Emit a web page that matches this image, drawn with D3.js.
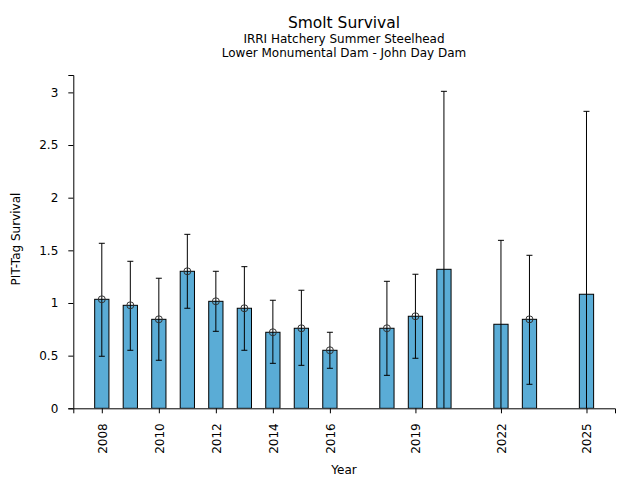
<!DOCTYPE html>
<html>
<head>
<meta charset="utf-8">
<script src="https://cdn.jsdelivr.net/npm/d3@7"></script>
<style>
  body { margin: 0; background: #fff; }
  text { font-family: "DejaVu Sans", sans-serif; fill: #000; }
</style>
</head>
<body>
<svg id="chart" width="640" height="480"></svg>
<script>
// data
var years    = [2008, 2009, 2010, 2011, 2012, 2013, 2014, 2015, 2016, 2018, 2019, 2020, 2022, 2023, 2025];
var survival = [1.035, 0.978, 0.845, 1.301, 1.016, 0.950, 0.722, 0.760, 0.551, 0.760, 0.874, 1.320, 0.798, 0.845, 1.083];
// point estimate circles (null where none drawn)
var points   = [1.035, 0.978, 0.845, 1.301, 1.016, 0.950, 0.722, 0.760, 0.551, 0.760, 0.874, null, null, 0.845, null];
var errUpper = [1.567, 1.396, 1.235, 1.652, 1.301, 1.345, 1.026, 1.121, 0.722, 1.206, 1.273, 3.010, 1.595, 1.453, 2.820];
var errLower = [0.494, 0.551, 0.456, 0.950, 0.731, 0.551, 0.427, 0.408, 0.380, 0.313, 0.475, -0.5, -0.5, 0.228, -0.5];
var xTicks   = [2008, 2010, 2012, 2014, 2016, 2019, 2022, 2025];
var yTicks   = [0, 0.5, 1, 1.5, 2, 2.5, 3];

var svg = d3.select('#chart');
var padL = 73.3, padR = 615, padT = 75, padB = 408.3;

var x = d3.scaleLinear().domain([2007, 2026]).range([padL, padR]);
var y = d3.scaleLinear().domain([0, 3.165]).range([padB, padT]);

var rows = years.map(function(d, i) {
    return {year: d, v: survival[i], p: points[i], hi: errUpper[i], lo: errLower[i]};
});

//clip so error bars below zero are cut at the axis
svg.append('clipPath').attr('id', 'plotclip')
    .append('rect').attr('x', padL).attr('y', padT - 10).attr('width', padR - padL).attr('height', padB - padT + 10);

var plot = svg.append('g').attr('clip-path', 'url(#plotclip)');

var bw = x(2008.5) - x(2008);

plot.selectAll('rect.bar').data(rows).enter().append('rect')
    .attr('class', 'bar')
    .attr('x', function(d) { return x(d.year) - bw / 2; })
    .attr('y', function(d) { return y(d.v); })
    .attr('width', bw)
    .attr('height', function(d) { return y(0) - y(d.v); })
    .attr('fill', '#5aacd6')
    .attr('stroke', '#000')
    .attr('stroke-width', 1);

var eb = plot.selectAll('g.err').data(rows).enter().append('g').attr('class', 'err')
    .attr('stroke', '#000').attr('stroke-width', 1);
eb.append('line')
    .attr('x1', function(d) { return x(d.year); })
    .attr('x2', function(d) { return x(d.year); })
    .attr('y1', function(d) { return y(d.lo); })
    .attr('y2', function(d) { return y(d.hi); });
eb.append('line')
    .attr('x1', function(d) { return x(d.year) - 3; })
    .attr('x2', function(d) { return x(d.year) + 3; })
    .attr('y1', function(d) { return y(d.hi); })
    .attr('y2', function(d) { return y(d.hi); });
eb.filter(function(d) { return d.lo > 0; }).append('line')
    .attr('x1', function(d) { return x(d.year) - 3; })
    .attr('x2', function(d) { return x(d.year) + 3; })
    .attr('y1', function(d) { return y(d.lo); })
    .attr('y2', function(d) { return y(d.lo); });

plot.selectAll('circle.pt').data(rows.filter(function(d) { return d.p != null; })).enter().append('circle')
    .attr('class', 'pt')
    .attr('cx', function(d) { return x(d.year); })
    .attr('cy', function(d) { return y(d.p); })
    .attr('r', 3.5)
    .attr('fill', 'none')
    .attr('stroke', '#333')
    .attr('stroke-width', 1);

// axes
var xAxis = svg.append('g').attr('transform', 'translate(0,' + padB + ')')
    .call(d3.axisBottom(x).tickValues(xTicks).tickFormat(d3.format('d')).tickSizeOuter(0).tickSize(5));
xAxis.selectAll('text')
    .attr('transform', 'rotate(-90)')
    .attr('text-anchor', 'end')
    .attr('x', -15)
    .attr('y', 0)
    .attr('dy', '0.35em');

var yAxis = svg.append('g').attr('transform', 'translate(' + padL + ',0)')
    .call(d3.axisLeft(y).tickValues(yTicks).tickFormat(d3.format('')).tickSizeOuter(0).tickSize(5));
yAxis.selectAll('text').attr('x', -15);

svg.selectAll('.tick text').style('font-size', '12px').style('font-family', '"DejaVu Sans", sans-serif');
svg.selectAll('.domain, .tick line').attr('stroke', '#000');

// titles
svg.append('text').attr('x', 344).attr('y', 28).attr('text-anchor', 'middle')
    .style('font-size', '15.5px').text('Smolt Survival');
svg.append('text').attr('x', 344).attr('y', 42.5).attr('text-anchor', 'middle')
    .style('font-size', '12px').text('IRRI Hatchery Summer Steelhead');
svg.append('text').attr('x', 344).attr('y', 56.7).attr('text-anchor', 'middle')
    .style('font-size', '12px').text('Lower Monumental Dam - John Day Dam');

svg.append('text').attr('x', 344).attr('y', 474).attr('text-anchor', 'middle')
    .style('font-size', '12px').text('Year');
svg.append('text').attr('transform', 'translate(20,239) rotate(-90)').attr('text-anchor', 'middle')
    .style('font-size', '12px').text('PIT-Tag Survival');
</script>
</body>
</html>
